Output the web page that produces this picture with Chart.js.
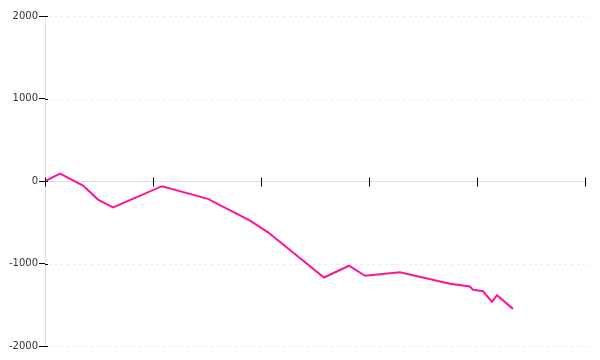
<!DOCTYPE html>
<html>
<head>
<meta charset="utf-8">
<script src="https://cdn.jsdelivr.net/npm/chart.js@4.4.1/dist/chart.umd.min.js"></script>
<style>
  html, body { margin: 0; padding: 0; background: #fff; }
  #wrap { width: 600px; height: 360px; }
</style>
</head>
<body>
<div id="wrap"><canvas id="chart"></canvas></div>
<script>
const xValues = [0, 0.139, 0.352, 0.491, 0.63, 1.083, 1.509, 1.898, 2.065, 2.583, 2.815, 2.963, 3.102, 3.287, 3.75, 3.935, 3.963, 4.056, 4.139, 4.185, 4.333];
const yValues = [0, 90, -55, -225, -320, -63, -216, -480, -622, -1170, -1027, -1149, -1131, -1106, -1246, -1279, -1319, -1337, -1465, -1384, -1550];
const xTicks = [0, 1, 2, 3, 4, 5];
const yTicks = [-2000, -1000, 0, 1000, 2000];

const points = xValues.map((x, i) => ({ x: x, y: yValues[i] }));

// x axis drawn at y = 0 with crossing tick marks
const zeroAxis = {
    id: 'zeroAxis',
    beforeDatasetsDraw(chart) {
        const ctx = chart.ctx;
        const area = chart.chartArea;
        const ys = chart.scales.y;
        const y0 = Math.round(ys.getPixelForValue(0)) + 0.5;
        ctx.save();
        ctx.lineWidth = 1;
        // dotted grid lines
        ctx.strokeStyle = '#e6e6e6';
        ctx.setLineDash([2, 4]);
        yTicks.filter(t => t !== 0).forEach(t => {
            const py = Math.round(ys.getPixelForValue(t)) + 0.5;
            ctx.beginPath();
            ctx.moveTo(area.left + 4, py);
            ctx.lineTo(area.right + 5, py);
            ctx.stroke();
        });
        ctx.setLineDash([]);
        ctx.strokeStyle = '#dddddd';
        ctx.beginPath();
        ctx.moveTo(area.left, y0);
        ctx.lineTo(area.right, y0);
        ctx.stroke();
        // y tick marks poke a little into the plot
        ctx.strokeStyle = '#000';
        yTicks.forEach(t => {
            const py = Math.round(ys.getPixelForValue(t)) + 0.5;
            ctx.beginPath();
            ctx.moveTo(area.left, py);
            ctx.lineTo(area.left + 3, py);
            ctx.stroke();
        });
        ctx.restore();
    },
    afterDatasetsDraw(chart) {
        const ctx = chart.ctx;
        const xs = chart.scales.x;
        const y0 = Math.round(chart.scales.y.getPixelForValue(0)) + 0.5;
        ctx.save();
        ctx.strokeStyle = '#000';
        ctx.lineWidth = 1;
        xTicks.forEach(t => {
            const px = Math.round(xs.getPixelForValue(t)) + 0.5;
            ctx.beginPath();
            ctx.moveTo(px, y0 - 4);
            ctx.lineTo(px, y0 + 5);
            ctx.stroke();
        });
        ctx.restore();
    }
};

new Chart(document.getElementById('chart'), {
    type: 'line',
    data: {
        datasets: [{
            data: points,
            borderColor: '#ff1493',
            borderWidth: 2,
            pointRadius: 0,
            tension: 0,
            fill: false
        }]
    },
    options: {
        responsive: true,
        maintainAspectRatio: false,
        animation: false,
        layout: { padding: { top: 16, bottom: 14, right: 15, left: 0 } },
        plugins: { legend: { display: false }, tooltip: { enabled: false } },
        scales: {
            x: {
                type: 'linear',
                min: 0,
                max: 5,
                display: false
            },
            y: {
                min: -2000,
                max: 2000,
                afterFit(scale) { scale.width = 45; },
                afterBuildTicks(scale) { scale.ticks = yTicks.map(v => ({ value: v })); },
                border: { color: '#dddddd', width: 1 },
                grid: {
                    drawOnChartArea: false,
                    tickColor: '#000',
                    tickLength: 6
                },
                ticks: {
                    color: '#333',
                    padding: 1,
                    font: { family: 'DejaVu Sans', size: 10 },
                    callback: v => String(v)
                }
            }
        }
    },
    plugins: [zeroAxis]
});
</script>
</body>
</html>
